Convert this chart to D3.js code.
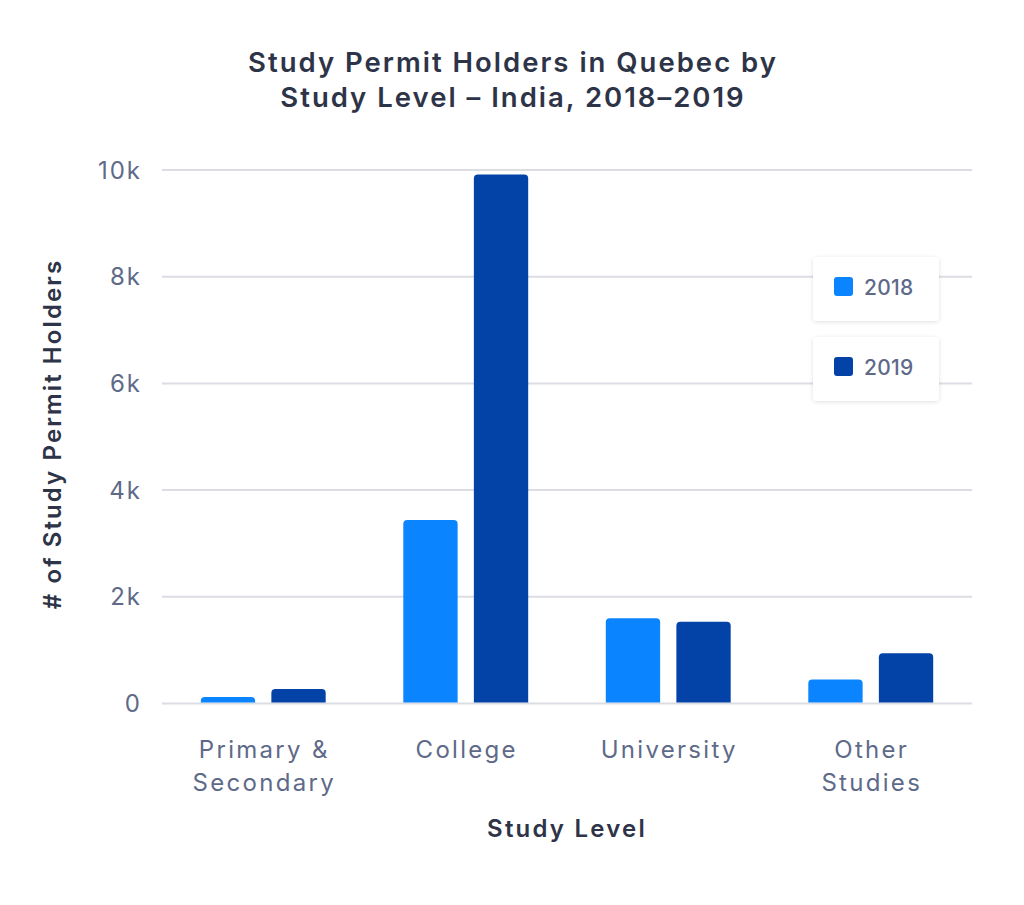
<!DOCTYPE html>
<html>
<head>
<meta charset="utf-8">
<script src="https://cdn.jsdelivr.net/npm/d3@7"></script>
<style>
  html, body { margin: 0; padding: 0; background: #ffffff; }
  svg { display: block; font-family: "Inter", "Open Sans", sans-serif; }
</style>
</head>
<body>
<svg id="chart" width="1024" height="905"></svg>
<script>
const categories = ["Primary & Secondary", "College", "University", "Other Studies"];
const categoryLines = [["Primary &", "Secondary"], ["College"], ["University"], ["Other", "Studies"]];
const seriesNames = ["2018", "2019"];
const values2018 = [120, 3440, 1600, 450];
const values2019 = [270, 9915, 1530, 940];
const yTicks = [0, 2000, 4000, 6000, 8000, 10000];
const yTickLabels = ["0", "2k", "4k", "6k", "8k", "10k"];
const colors = ["#0A84FF", "#0343A8"];

const svg = d3.select("#chart");
const plot = { left: 162, right: 972, top: 170, bottom: 703.5 };

const x = d3.scaleBand().domain(categories).range([plot.left, plot.right]).paddingInner(0).paddingOuter(0);
const y = d3.scaleLinear().domain([0, 10000]).range([plot.bottom, plot.top]);
const sub = d3.scaleBand().domain(seriesNames).range([0, x.bandwidth()]).paddingInner(0.23).paddingOuter(0.55);

const textCol = "#5E6A88";
const darkCol = "#2E3448";

const defs = svg.append("defs");
const f = defs.append("filter").attr("id", "shadow").attr("x", "-20%").attr("y", "-30%").attr("width", "140%").attr("height", "160%");
f.append("feDropShadow").attr("dx", 0).attr("dy", 1).attr("stdDeviation", 2).attr("flood-color", "#000").attr("flood-opacity", 0.12);

// gridlines
svg.append("g").selectAll("line").data(yTicks).join("line")
  .attr("x1", plot.left).attr("x2", plot.right)
  .attr("y1", d => y(d)).attr("y2", d => y(d))
  .attr("stroke", "#DCDDE3").attr("stroke-width", 2);

// y tick labels
svg.append("g").selectAll("text").data(yTicks).join("text")
  .attr("x", 142).attr("y", d => y(d)).attr("dy", "0.36em")
  .attr("text-anchor", "end").attr("fill", textCol)
  .attr("font-size", 24).attr("letter-spacing", 2).text((d, i) => yTickLabels[i]);

// bars
const data = categories.map((c, i) => ({ c, vals: [values2018[i], values2019[i]] }));
const r = 4;
function barPath(x0, w, yTop, yBot) {
  const rr = Math.min(r, (yBot - yTop), w / 2);
  return `M${x0},${yBot}V${yTop + rr}Q${x0},${yTop} ${x0 + rr},${yTop}H${x0 + w - rr}Q${x0 + w},${yTop} ${x0 + w},${yTop + rr}V${yBot}Z`;
}
const g = svg.append("g");
data.forEach(d => {
  d.vals.forEach((v, j) => {
    const x0 = x(d.c) + sub(seriesNames[j]);
    g.append("path").attr("d", barPath(x0, sub.bandwidth(), y(v), y(0) - 1)).attr("fill", colors[j]);
  });
});

// x labels
const xl = svg.append("g");
categories.forEach((c, i) => {
  const t = xl.append("text").attr("text-anchor", "middle").attr("fill", textCol)
    .attr("font-size", 24).attr("letter-spacing", 2.3);
  categoryLines[i].forEach((line, k) => {
    t.append("tspan").attr("x", x(c) + x.bandwidth() / 2 + 1).attr("y", 758 + k * 33).text(line);
  });
});

// title
const title = svg.append("text").attr("text-anchor", "middle").attr("fill", darkCol)
  .attr("font-size", 27.5).attr("font-weight", 600).attr("letter-spacing", 2);
title.append("tspan").attr("x", 513).attr("y", 72).text("Study Permit Holders in Quebec by");
title.append("tspan").attr("x", 513).attr("y", 107).text("Study Level – India, 2018–2019");

// axis titles
svg.append("text").attr("x", 567).attr("y", 837).attr("text-anchor", "middle").attr("fill", darkCol)
  .attr("font-size", 24).attr("font-weight", 600).attr("letter-spacing", 2.2).text("Study Level");
svg.append("text").attr("transform", "translate(61,434) rotate(-90)").attr("text-anchor", "middle").attr("fill", darkCol)
  .attr("font-size", 24).attr("font-weight", 600).attr("letter-spacing", 2.1).text("# of Study Permit Holders");

// legend
const leg = svg.append("g");
seriesNames.forEach((s, i) => {
  const top = 257 + i * 80;
  leg.append("rect").attr("x", 813).attr("y", top).attr("width", 126).attr("height", 64).attr("rx", 4)
    .attr("fill", "#fff").attr("filter", "url(#shadow)");
  leg.append("rect").attr("x", 834).attr("y", top + 20).attr("width", 19).attr("height", 19).attr("rx", 3).attr("fill", colors[i]);
  leg.append("text").attr("x", 864).attr("y", top + 38).attr("fill", textCol).attr("font-size", 21)
    .attr("font-weight", 500).attr("letter-spacing", 0.3).text(s);
});
</script>
</body>
</html>
